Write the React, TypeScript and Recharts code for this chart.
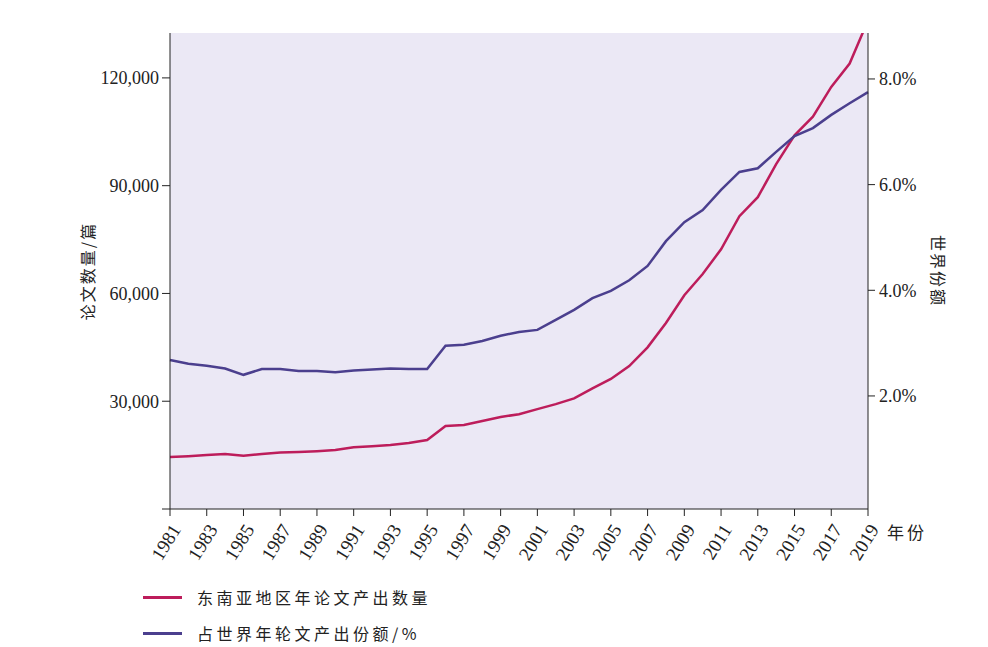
import { LineChart, Line, XAxis, YAxis, CartesianGrid } from "recharts";

const years = [
  1981, 1982, 1983, 1984, 1985, 1986, 1987, 1988, 1989, 1990, 1991, 1992, 1993,
  1994, 1995, 1996, 1997, 1998, 1999, 2000, 2001, 2002, 2003, 2004, 2005, 2006,
  2007, 2008, 2009, 2010, 2011, 2012, 2013, 2014, 2015, 2016, 2017, 2018, 2019,
];

// 东南亚地区年论文产出数量 (篇)
const papers = [
  14500, 14700, 15000, 15300, 14800, 15300, 15700, 15900, 16100, 16400, 17200,
  17500, 17800, 18400, 19200, 23100, 23400, 24500, 25600, 26400, 27800, 29200,
  30800, 33600, 36200, 39800, 45000, 51800, 59500, 65400, 72300, 81500, 86800,
  96000, 104000, 109200, 117500, 124000, 136000,
];

// 占世界年论文产出份额 (%)
const share = [
  2.68, 2.61, 2.57, 2.52, 2.4, 2.51, 2.51, 2.47, 2.47, 2.45, 2.48, 2.5, 2.52,
  2.51, 2.51, 2.95, 2.97, 3.04, 3.14, 3.21, 3.25, 3.44, 3.63, 3.85, 3.99, 4.19,
  4.46, 4.93, 5.29, 5.52, 5.9, 6.24, 6.31, 6.62, 6.92, 7.07, 7.32, 7.54, 7.75,
];

const yearTicks = [
  1981, 1983, 1985, 1987, 1989, 1991, 1993, 1995, 1997, 1999, 2001, 2003, 2005,
  2007, 2009, 2011, 2013, 2015, 2017, 2019,
];
const leftTicks = [0, 30000, 60000, 90000, 120000];
const rightTicks = [2, 4, 6, 8];

const data = years.map((year, i) => ({
  year,
  papers: papers[i],
  share: share[i],
}));

const RED = "#bd1d5b";
const BLUE = "#4b3f8e";
const SERIF = "'Liberation Serif', 'Times New Roman', serif";
const CJK = "'Noto Sans CJK SC', sans-serif";

const YearTick = (props: any) => {
  const { x, y, payload } = props;
  const ax = x + 6;
  const ay = y + 8;
  return (
    <text
      x={ax}
      y={ay}
      transform={`rotate(-58, ${ax}, ${ay})`}
      textAnchor="end"
      dominantBaseline="central"
      fontFamily={SERIF}
      fontSize={19}
      fill="#222"
    >
      {payload.value}
    </text>
  );
};

const LegendItem = ({ color, label, top }: { color: string; label: string; top: number }) => (
  <div
    style={{
      position: "absolute",
      left: 143,
      top,
      display: "flex",
      alignItems: "center",
      fontFamily: CJK,
      fontSize: 16,
      letterSpacing: 3.5,
      color: "#222",
    }}
  >
    <span style={{ display: "inline-block", width: 39, height: 3, background: color, marginRight: 15 }} />
    {label}
  </div>
);

export default function App() {
  return (
    <div style={{ position: "relative", width: 988, height: 647, background: "#fff" }}>
      <style>{`body{margin:0}`}</style>
      <LineChart
        width={988}
        height={647}
        data={data}
        margin={{ top: 33, right: 0, bottom: 0, left: 0 }}
      >
        <CartesianGrid horizontal={false} vertical={false} fill="#ebe8f5" />
        <XAxis
          dataKey="year"
          type="number"
          domain={[1981, 2019]}
          ticks={yearTicks}
          interval={0}
          height={138}
          tick={<YearTick />}
          tickSize={7}
          stroke="#222"
        />
        <YAxis
          yAxisId="left"
          width={170}
          domain={[0, 132500]}
          allowDataOverflow
          ticks={leftTicks}
          tickFormatter={(v: number) => (v === 0 ? "" : v.toLocaleString("en-US"))}
          tickSize={8}
          tickMargin={3}
          stroke="#222"
          tick={{ fontFamily: SERIF, fontSize: 18, fill: "#222" }}
          label={{
            value: "论文数量/篇",
            angle: -90,
            position: "insideLeft",
            offset: 88,
            style: { fontFamily: CJK, fontSize: 16, letterSpacing: 2, fill: "#222", textAnchor: "middle" },
          }}
        />
        <YAxis
          yAxisId="right"
          orientation="right"
          width={120}
          domain={[-0.14, 8.87]}
          allowDataOverflow
          ticks={rightTicks}
          tickFormatter={(v: number) => `${v.toFixed(1)}%`}
          tickSize={7}
          tickMargin={4}
          stroke="#222"
          tick={{ fontFamily: SERIF, fontSize: 18, fill: "#222" }}
          label={{
            value: "世界份额",
            angle: 90,
            position: "insideRight",
            offset: 50,
            style: { fontFamily: CJK, fontSize: 16, letterSpacing: 2, fill: "#222", textAnchor: "middle" },
          }}
        />
        <Line
          yAxisId="left"
          dataKey="papers"
          stroke={RED}
          strokeWidth={2.5}
          dot={false}
          type="linear"
          isAnimationActive={false}
        />
        <Line
          yAxisId="right"
          dataKey="share"
          stroke={BLUE}
          strokeWidth={2.5}
          dot={false}
          type="linear"
          isAnimationActive={false}
        />
      </LineChart>
      <div
        style={{
          position: "absolute",
          left: 887,
          top: 519,
          fontFamily: CJK,
          fontSize: 17,
          letterSpacing: 3,
          color: "#222",
        }}
      >
        年份
      </div>
      <LegendItem color={RED} label="东南亚地区年论文产出数量" top={585} />
      <LegendItem color={BLUE} label="占世界年轮文产出份额/%" top={621} />
    </div>
  );
}
